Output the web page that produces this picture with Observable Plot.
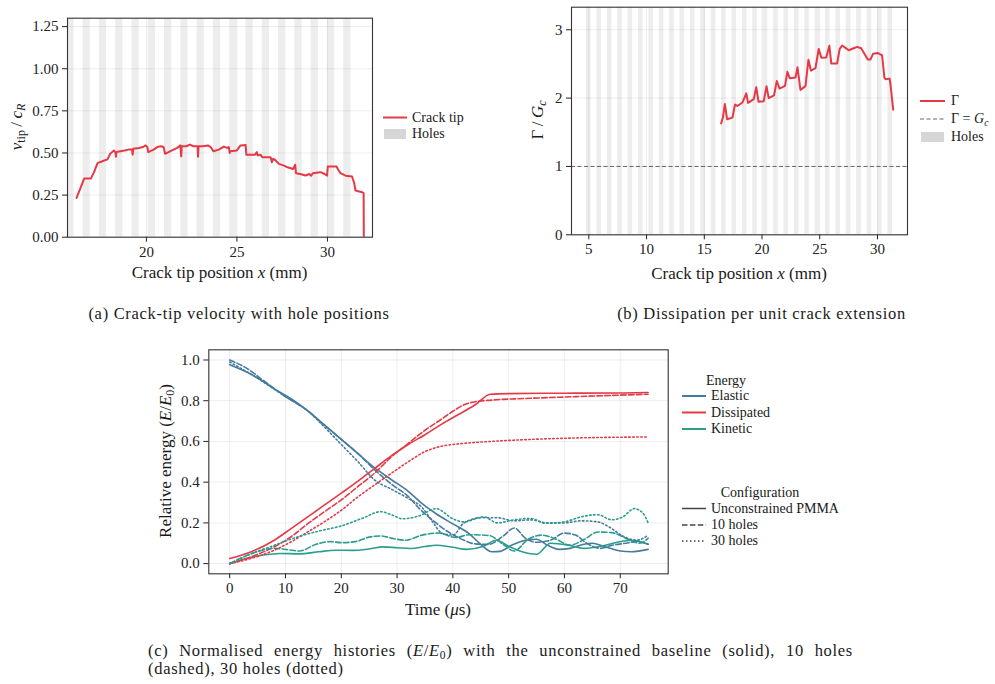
<!DOCTYPE html>
<html>
<head>
<meta charset="utf-8">
<script src="https://cdn.jsdelivr.net/npm/d3@7"></script>
<script src="https://cdn.jsdelivr.net/npm/@observablehq/plot@0.6"></script>
<style>
  body { margin: 0; background: #fff; }
  #fig { position: relative; width: 995px; height: 684px; overflow: hidden;
         font-family: "Liberation Serif", "DejaVu Serif", serif; color: #1a1a1a; }
  #fig > svg, #fig > figure { position: absolute; }
  .abs { position: absolute; white-space: nowrap; line-height: 1; }
  .mid { transform: translate(-50%, -50%); }
  .left { transform: translate(0, -50%); }
  .rot { transform: translate(-50%, -50%) rotate(-90deg); }
  .lbl { font-size: 17px; }
  .leg { font-size: 14px; }
  .cap { font-size: 16.5px; letter-spacing: 0.7px; }
  sub { font-size: 70%; vertical-align: -0.3em; line-height: 0; }
</style>
</head>
<body>
<div id="fig"></div>
<script>
// ---------- hole layout (mm) ----------
const holeCentres = [5.0, 5.9, 6.8, 7.7, 8.6, 9.5, 10.4, 11.3, 12.2, 13.1, 14.0, 14.9, 15.8, 16.7, 17.6,
                     18.5, 19.4, 20.3, 21.2, 22.1, 23.0, 23.9, 24.8, 25.7, 26.6, 27.5, 28.4, 29.3, 30.2, 31.1];
const holeDiameter = 0.4;

// ---------- (a) crack-tip velocity ----------
const tipPosition = [16.14, 16.35, 16.56, 16.93, 17.10, 17.30, 17.60, 17.85, 18.00, 18.10, 18.20, 18.28, 18.32, 18.34,
  18.55, 18.80, 19.00, 19.20, 19.24, 19.27, 19.60, 19.80, 19.96, 20.05, 20.10, 20.40, 20.60, 20.80, 20.95, 21.03,
  21.30, 21.50, 21.70, 21.88, 21.92, 21.95, 22.20, 22.40, 22.60, 22.83, 22.85, 22.88, 23.10, 23.40, 23.55, 23.70,
  24.00, 24.28, 24.45, 24.55, 24.60, 24.63, 25.00, 25.20, 25.48, 25.52, 25.80, 26.00, 26.10, 26.15, 26.30, 26.40,
  26.86, 26.93, 27.00, 27.10, 27.32, 27.60, 27.80, 28.10, 28.22, 28.26, 28.50, 28.79, 29.00, 29.10, 29.20, 29.61,
  29.85, 29.98, 30.02, 30.50, 30.60, 30.72, 31.00, 31.36, 31.48, 31.55, 31.91, 32.00, 32.01];
const tipSpeed = [0.233, 0.29, 0.348, 0.348, 0.385, 0.44, 0.452, 0.462, 0.495, 0.505, 0.515, 0.505, 0.478, 0.505,
  0.51, 0.515, 0.52, 0.52, 0.49, 0.525, 0.53, 0.535, 0.545, 0.535, 0.505, 0.52, 0.535, 0.54, 0.535, 0.495,
  0.51, 0.52, 0.53, 0.545, 0.48, 0.54, 0.54, 0.55, 0.54, 0.54, 0.478, 0.54, 0.54, 0.545, 0.535, 0.51,
  0.52, 0.538, 0.53, 0.535, 0.50, 0.51, 0.515, 0.545, 0.548, 0.49, 0.49, 0.49, 0.505, 0.485, 0.49, 0.475,
  0.475, 0.445, 0.465, 0.46, 0.435, 0.425, 0.415, 0.405, 0.43, 0.38, 0.375, 0.366, 0.375, 0.365, 0.38, 0.386,
  0.375, 0.365, 0.42, 0.42, 0.40, 0.38, 0.365, 0.36, 0.32, 0.277, 0.267, 0.262, 0.0];
const speedTicks = [0, 0.25, 0.5, 0.75, 1.0, 1.25];

// ---------- (b) dissipation per unit crack extension ----------
const gammaPosition = [16.46, 16.62, 16.78, 16.98, 17.44, 17.66, 17.87, 18.30, 18.64, 18.79, 19.29, 19.50, 19.70,
  20.15, 20.39, 20.58, 21.04, 21.28, 21.52, 21.99, 22.20, 22.40, 22.90, 23.07, 23.33, 23.76, 24.02, 24.24, 24.63,
  24.91, 25.14, 25.56, 25.83, 26.00, 26.50, 26.73, 26.94, 27.23, 27.51, 27.94, 28.24, 28.58, 28.87, 29.16, 29.39,
  29.62, 30.02, 30.40, 30.60, 30.70, 31.05, 31.12, 31.36];
const gammaRatio = [1.63, 1.72, 1.915, 1.69, 1.715, 1.905, 1.885, 1.935, 2.07, 1.93, 1.985, 2.16, 1.945,
  1.955, 2.175, 2.0, 2.04, 2.25, 2.14, 2.18, 2.385, 2.29, 2.30, 2.45, 2.12, 2.175, 2.56, 2.40, 2.44,
  2.72, 2.59, 2.595, 2.767, 2.505, 2.505, 2.72, 2.77, 2.735, 2.70, 2.73, 2.75, 2.73, 2.65, 2.565, 2.565,
  2.648, 2.66, 2.625, 2.30, 2.275, 2.285, 2.21, 1.83];
const gammaTicks = [0, 1, 2, 3];
const gammaXTicks = [5, 10, 15, 20, 25, 30];

// ---------- (c) energy histories: [time (µs), E/E0] ----------
const elasticSolid = [[0,0.977],[4,0.928],[8,0.858],[11,0.81],[14,0.75],[17,0.68],[20,0.61],[23,0.54],[26,0.47],
  [29,0.412],[32,0.355],[34.5,0.295],[37,0.245],[40,0.195],[43,0.145],[45,0.095],[47,0.058],[48.5,0.06],[50.5,0.09],
  [53,0.115],[55,0.12],[57,0.09],[59,0.07],[61,0.075],[63.5,0.095],[65,0.1],[67,0.085],[70,0.062],[72,0.058],[75,0.07]];
const elasticDashed = [[0,1.0],[3,0.96],[6,0.9],[10,0.82],[14,0.75],[17,0.68],[20,0.61],[23,0.54],[26,0.46],
  [29,0.39],[32,0.33],[34,0.27],[36.5,0.21],[39.5,0.15],[42,0.115],[44,0.097],[46.5,0.095],[49,0.135],[51,0.175],
  [53,0.125],[55,0.105],[57.5,0.115],[60,0.15],[62,0.14],[64,0.1],[66.5,0.075],[68.5,0.09],[71,0.1],[73,0.108],[75,0.095]];
const elasticDotted = [[0,0.99],[5,0.91],[10,0.82],[14,0.75],[17,0.67],[20,0.585],[23,0.5],[26,0.41],[29,0.365],
  [32,0.32],[34.5,0.275],[36.5,0.2],[38,0.15],[40,0.14],[42,0.2],[45,0.225],[48,0.225],[51,0.21],[54,0.215],
  [57,0.2],[60,0.2],[63,0.21],[66,0.205],[68,0.18],[70.5,0.135],[73,0.115],[75,0.14]];
const dissipatedSolid = [[0,0.025],[4,0.06],[8,0.115],[11,0.172],[14,0.23],[17,0.288],[20,0.346],[23,0.405],
  [26,0.468],[29,0.53],[32,0.585],[35,0.633],[38,0.685],[41,0.732],[44,0.78],[46.7,0.832],[50,0.835],[60,0.837],
  [70,0.838],[75,0.84]];
const dissipatedDashed = [[0,0.0],[4,0.035],[8,0.083],[11,0.132],[14,0.196],[17,0.255],[20,0.313],[23,0.379],
  [26,0.445],[29,0.525],[32,0.59],[35,0.655],[38,0.71],[40,0.748],[42,0.78],[44,0.795],[47,0.803],[54,0.812],
  [62,0.82],[75,0.832]];
const dissipatedDotted = [[0,0.0],[4,0.027],[8,0.066],[11,0.107],[14,0.156],[17,0.206],[20,0.262],[23,0.328],
  [26,0.387],[29,0.444],[32,0.5],[35,0.55],[37.7,0.575],[40,0.585],[44,0.595],[48,0.602],[54,0.61],[62,0.617],[75,0.622]];
const kineticSolid = [[0,0.0],[3,0.025],[6,0.042],[9,0.05],[12.5,0.048],[16,0.058],[19,0.066],[22,0.065],[25,0.072],
  [27.5,0.082],[30,0.078],[32.5,0.074],[35,0.084],[37,0.09],[40,0.08],[42.5,0.07],[45.5,0.085],[47.8,0.115],[50,0.085],
  [52,0.062],[55,0.046],[57.5,0.1],[60.5,0.092],[63.5,0.075],[66.5,0.085],[69.5,0.105],[72,0.115],[75,0.095]];
const kineticDashed = [[0,0.0],[4,0.05],[8,0.075],[10.5,0.068],[12.5,0.062],[15.5,0.095],[18,0.108],[20,0.103],
  [22.5,0.108],[25,0.13],[27,0.136],[29.5,0.122],[31.5,0.115],[34.5,0.14],[37.5,0.15],[40.5,0.128],[43,0.142],
  [46.5,0.138],[49,0.095],[51,0.062],[53.5,0.12],[56,0.14],[58.5,0.12],[61,0.09],[63.5,0.118],[66,0.155],
  [68.5,0.152],[71.5,0.118],[73.5,0.1],[75,0.125]];
const kineticDotted = [[0,0.0],[4,0.05],[8,0.09],[12,0.13],[16,0.16],[20,0.185],[24,0.225],[27,0.255],[29,0.24],
  [31,0.22],[34,0.235],[37,0.27],[40,0.22],[42,0.205],[45.5,0.23],[48,0.2],[51,0.215],[54,0.222],[56.5,0.198],
  [60,0.205],[63,0.23],[66,0.24],[68.5,0.215],[70.5,0.23],[72.5,0.27],[74,0.25],[75,0.2]];

const energyKinds = ["Elastic", "Dissipated", "Kinetic"];
const energyColours = ["#457b9d", "#e63946", "#2a9d8f"];
const configurations = ["Unconstrained PMMA", "10 holes", "30 holes"];
const timeTicks = [0, 10, 20, 30, 40, 50, 60, 70];
const energyTicks = [0, 0.2, 0.4, 0.6, 0.8, 1.0];

const crackRed = "#e63946";
const frameColour = "#333";
const gridStyle = {stroke: "#000", strokeOpacity: 0.07, strokeWidth: 1};
const axisStyle = {fontFamily: "'Liberation Serif', 'DejaVu Serif', serif", fontSize: "15px", color: "#222",
                   background: "transparent", overflow: "visible"};

const fig = document.getElementById("fig");

function addPlot(plot, left, top) {
  plot.style.left = left + "px";
  plot.style.top = top + "px";
  fig.appendChild(plot);
}
function addText(html, x, y, cls) {
  const d = document.createElement("div");
  d.className = "abs " + cls;
  d.style.left = x + "px";
  d.style.top = y + "px";
  d.innerHTML = html;
  fig.appendChild(d);
}

// hole bands spanning the whole frame height
function holeBands(yTop) {
  return Plot.rect(holeCentres, {
    x1: d => d - holeDiameter / 2, x2: d => d + holeDiameter / 2,
    y1: () => 0, y2: () => yTop,
    fill: "#d3d3d3", fillOpacity: 0.42, clip: true
  });
}

// ---------- panel (a) ----------
const speedRows = tipPosition.map((x, i) => ({x, v: tipSpeed[i]}));
addPlot(Plot.plot({
  width: 380, height: 290,
  marginLeft: 67, marginRight: 8, marginTop: 17.7, marginBottom: 53.3,
  style: axisStyle,
  x: {domain: [15.64, 32.49], ticks: [20, 25, 30], tickSize: 5, tickPadding: 4, label: null},
  y: {domain: [0, 1.3], ticks: speedTicks, tickFormat: d3.format(".2f"), tickSize: 5, tickPadding: 4, label: null},
  marks: [
    holeBands(1.3),
    Plot.gridX([20, 25, 30], gridStyle),
    Plot.gridY(speedTicks, gridStyle),
    Plot.line(speedRows, {x: "x", y: "v", stroke: crackRed, strokeWidth: 2, clip: true}),
    Plot.frame({stroke: frameColour, strokeWidth: 1.1})
  ]
}), 0, 0);

// ---------- panel (b) ----------
const gammaRows = gammaPosition.map((x, i) => ({x, g: gammaRatio[i]}));
addPlot(Plot.plot({
  width: 420, height: 290,
  marginLeft: 76, marginRight: 8, marginTop: 6.7, marginBottom: 55.7,
  style: axisStyle,
  x: {domain: [3.5, 32.6], ticks: gammaXTicks, tickSize: 5, tickPadding: 4, label: null},
  y: {domain: [0, 3.33], ticks: gammaTicks, tickFormat: d3.format("d"), tickSize: 5, tickPadding: 4, label: null},
  marks: [
    holeBands(3.33),
    Plot.gridX(gammaXTicks, gridStyle),
    Plot.gridY(gammaTicks, gridStyle),
    Plot.ruleY([1], {stroke: "#666", strokeWidth: 1, strokeDasharray: "4,2.5"}),
    Plot.line(gammaRows, {x: "x", y: "g", stroke: crackRed, strokeWidth: 2}),
    Plot.frame({stroke: frameColour, strokeWidth: 1.1})
  ]
}), 495, 0);

// ---------- panel (c) ----------
const energySeries = [
  ["Elastic", "Unconstrained PMMA", elasticSolid], ["Elastic", "10 holes", elasticDashed], ["Elastic", "30 holes", elasticDotted],
  ["Dissipated", "Unconstrained PMMA", dissipatedSolid], ["Dissipated", "10 holes", dissipatedDashed], ["Dissipated", "30 holes", dissipatedDotted],
  ["Kinetic", "Unconstrained PMMA", kineticSolid], ["Kinetic", "10 holes", kineticDashed], ["Kinetic", "30 holes", kineticDotted]
];
const energyRows = energySeries.flatMap(([energy, config, pts]) =>
  pts.map(([t, E]) => ({t, E, energy, config})));
const dashFor = {"Unconstrained PMMA": null, "10 holes": "5.5,2.4", "30 holes": "1.5,2.5"};

addPlot(Plot.plot({
  width: 540, height: 300,
  marginLeft: 68.3, marginRight: 12.3, marginTop: 19.3, marginBottom: 56.7,
  style: axisStyle,
  x: {domain: [-3.75, 78.6], ticks: timeTicks, tickSize: 5, tickPadding: 4, label: null},
  y: {domain: [-0.05, 1.05], ticks: energyTicks, tickFormat: d3.format(".1f"), tickSize: 5, tickPadding: 4, label: null},
  color: {domain: energyKinds, range: energyColours},
  marks: [
    Plot.gridX(timeTicks, gridStyle),
    Plot.gridY(energyTicks, gridStyle),
    ...configurations.map(c => Plot.line(energyRows.filter(r => r.config === c), {
      x: "t", y: "E", z: "energy", stroke: "energy", strokeWidth: 1.6,
      strokeDasharray: dashFor[c], curve: "monotone-x"
    })),
    Plot.frame({stroke: frameColour, strokeWidth: 1.1})
  ]
}), 140, 330);

// ---------- legend keys ----------
const keys = d3.select(fig).append("svg")
  .attr("width", 995).attr("height", 684)
  .style("left", "0px").style("top", "0px").style("pointer-events", "none");
function keyLine(x1, x2, y, colour, width, dash) {
  keys.append("line").attr("x1", x1).attr("x2", x2).attr("y1", y).attr("y2", y)
    .attr("stroke", colour).attr("stroke-width", width).attr("stroke-dasharray", dash || null);
}
function keyPatch(x, y, w, h) {
  keys.append("rect").attr("x", x).attr("y", y).attr("width", w).attr("height", h).attr("fill", "#d6d6d6");
}
// (a)
keyLine(383, 407, 117.5, crackRed, 2);
keyPatch(384, 129, 22, 10);
addText("Crack tip", 412, 117.5, "leg left");
addText("Holes", 412, 134, "leg left");
// (b)
keyLine(920, 945, 101, crackRed, 2);
keyLine(920, 945, 119, "#666", 1, "4,2.5");
keyPatch(921, 132, 23, 10);
addText("Γ", 951, 101, "leg left");
addText("Γ = <i>G</i><sub><i>c</i></sub>", 951, 119, "leg left");
addText("Holes", 951, 137, "leg left");
// (c)
addText("Energy", 726, 381, "leg mid");
const energyRowsY = [396, 412.5, 429];
energyKinds.forEach((k, i) => {
  keyLine(682, 706, energyRowsY[i], energyColours[i], 2);
  addText(k, 711, energyRowsY[i], "leg left");
});
addText("Configuration", 760, 493, "leg mid");
const configRowsY = [508.5, 525, 541];
configurations.forEach((c, i) => {
  keyLine(682, 706, configRowsY[i], "#444", 1.5, dashFor[c]);
  addText(c, 711, configRowsY[i], "leg left");
});

// ---------- axis titles ----------
addText("<i>v</i><sub>tip</sub>&thinsp;/&thinsp;<i>c</i><sub><i>R</i></sub>", 16, 127, "lbl rot");
addText("Crack tip position <i>x</i> (mm)", 219.5, 272, "lbl mid");
addText("Γ&thinsp;/&thinsp;<i>G</i><sub><i>c</i></sub>", 537, 120, "lbl rot");
addText("Crack tip position <i>x</i> (mm)", 739, 273, "lbl mid");
addText("Relative energy (<i>E</i>/<i>E</i><sub>0</sub>)", 165, 461, "lbl rot");
addText("Time (<i>μ</i>s)", 438, 609, "lbl mid");

// ---------- captions ----------
addText("(a) Crack-tip velocity with hole positions", 239, 314, "cap mid");
addText("(b) Dissipation per unit crack extension", 761.5, 314, "cap mid");
const capC = document.createElement("div");
capC.className = "abs cap left";
capC.style.cssText = "left:148px;top:651px;width:705px;text-align:justify;text-align-last:justify;white-space:normal;";
capC.innerHTML = "(c) Normalised energy histories (<i>E</i>/<i>E</i><sub>0</sub>) with the unconstrained baseline (solid), 10 holes";
fig.appendChild(capC);
addText("(dashed), 30 holes (dotted)", 148, 669, "cap left");
</script>
</body>
</html>
